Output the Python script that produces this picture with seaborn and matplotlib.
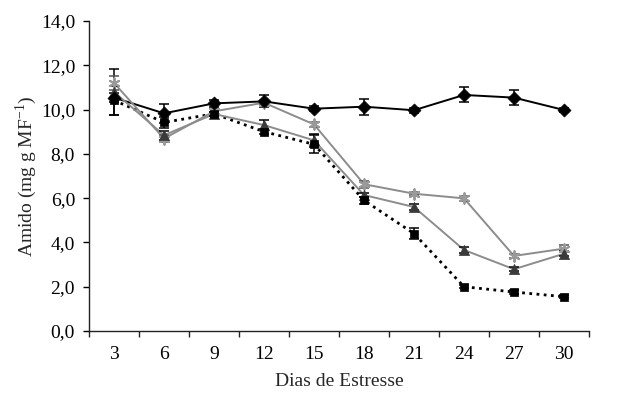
import matplotlib
matplotlib.use("Agg")
import matplotlib.pyplot as plt
import numpy as np
import pandas as pd
import seaborn as sns
from matplotlib.ticker import FixedLocator, FixedFormatter, NullFormatter

# Dias de estresse (categorias do eixo x)
dias = [3, 6, 9, 12, 15, 18, 21, 24, 27, 30]

# Amido (mg g MF-1) por tratamento, com erro-padrão
controle = [10.54, 9.83, 10.28, 10.37, 10.04, 10.13, 9.97, 10.66, 10.54, 9.98]
controle_ep = [0.20, 0.42, 0.15, 0.27, 0.12, 0.36, 0.12, 0.34, 0.33, 0.08]

trat_a = [10.42, 9.42, 9.81, 9.00, 8.43, 5.90, 4.40, 2.00, 1.76, 1.55]
trat_a_ep = [0.65, 0.25, 0.10, 0.12, 0.40, 0.15, 0.25, 0.08, 0.08, 0.06]

trat_b = [10.80, 8.84, 9.80, 9.30, 8.61, 6.14, 5.60, 3.66, 2.79, 3.49]
trat_b_ep = [1.05, 0.20, 0.10, 0.22, 0.30, 0.10, 0.12, 0.15, 0.10, 0.12]

trat_c = [11.20, 8.69, 9.92, 10.31, 9.33, 6.63, 6.20, 5.99, 3.39, 3.72]
trat_c_ep = [0.30, 0.15, 0.12, 0.12, 0.10, 0.15, 0.08, 0.12, 0.08, 0.15]

yticks = [0, 2, 4, 6, 8, 10, 12, 14]

series = {
    "controle": (controle, controle_ep),
    "trat_a": (trat_a, trat_a_ep),
    "trat_b": (trat_b, trat_b_ep),
    "trat_c": (trat_c, trat_c_ep),
}

rows = []
for nome, (vals, eps) in series.items():
    for i, (d, v, e) in enumerate(zip(dias, vals, eps)):
        rows.append({"pos": i, "dia": d, "amido": v, "ep": e, "serie": nome})
df = pd.DataFrame(rows)

sns.set_style("ticks")
plt.rcParams["font.family"] = ["Liberation Serif", "DejaVu Serif"]
plt.rcParams["mathtext.fontset"] = "custom"
plt.rcParams["mathtext.rm"] = "Liberation Serif"

fig = plt.figure(figsize=(6.32, 3.96), dpi=100)
# área do gráfico: 89..589 px na horizontal, 21..331 px na vertical
ax = fig.add_axes([89 / 632, 65 / 396, 500 / 632, 310 / 396])

line_colors = {"controle": "black", "trat_a": "black", "trat_b": "#8c8c8c", "trat_c": "#8c8c8c"}
dashes = {"controle": "", "trat_a": (1.0, 1.6), "trat_b": "", "trat_c": ""}
lws = {"controle": 1.4, "trat_a": 2.0, "trat_b": 1.4, "trat_c": 1.4}

# linhas de cada tratamento
for nome in series:
    sub = df[df["serie"] == nome]
    sns.lineplot(data=sub, x="pos", y="amido", color=line_colors[nome],
                 linewidth=lws[nome], ax=ax, legend=False, zorder=2)
    if dashes[nome] != "":
        ax.lines[-1].set_dashes(dashes[nome])

# barras de erro
err_colors = {"controle": "black", "trat_a": "black", "trat_b": "black", "trat_c": "#555555"}
for nome in series:
    sub = df[df["serie"] == nome]
    ax.errorbar(sub["pos"], sub["amido"], yerr=sub["ep"], fmt="none",
                ecolor=err_colors[nome], elinewidth=1.1, capsize=3.6,
                capthick=1.1, zorder=3)

# marcadores
marker_style = {
    "controle": dict(marker="D", s=44, color="black"),
    "trat_a": dict(marker="s", s=38, color="black"),
    "trat_b": dict(marker="^", s=54, color="#3a3a3a"),
    "trat_c": dict(marker=(6, 2, 0), s=58, color="#9a9a9a"),
}
for nome in ["trat_c", "trat_b", "trat_a", "controle"]:
    sub = df[df["serie"] == nome]
    st = marker_style[nome]
    sns.scatterplot(data=sub, x="pos", y="amido", marker=st["marker"], s=st["s"],
                    color=st["color"], edgecolor=st["color"],
                    linewidth=1.4 if nome == "trat_c" else 0.5,
                    ax=ax, legend=False, zorder=4)

# eixos
ax.set_xlim(-0.5, len(dias) - 0.5)
ax.set_ylim(0, 14)
ax.yaxis.set_major_locator(FixedLocator(yticks))
ax.yaxis.set_major_formatter(FixedFormatter([f"{v:.1f}".replace(".", ",") for v in yticks]))

ax.xaxis.set_major_locator(FixedLocator(np.arange(-0.5, len(dias), 1.0)))
ax.xaxis.set_major_formatter(NullFormatter())
ax.xaxis.set_minor_locator(FixedLocator(np.arange(len(dias))))
ax.xaxis.set_minor_formatter(FixedFormatter([str(d) for d in dias]))

ax.tick_params(axis="y", which="major", direction="out", length=4, width=1,
               labelsize=14, pad=6, colors="black")
ax.tick_params(axis="x", which="major", direction="out", length=4, width=1)
ax.tick_params(axis="x", which="minor", length=0, labelsize=14, pad=11, labelcolor="black")

for s in ["top", "right"]:
    ax.spines[s].set_visible(False)
for s in ["left", "bottom"]:
    ax.spines[s].set_color("#222222")
    ax.spines[s].set_linewidth(1)

ax.set_xlabel("Dias de Estresse", fontsize=14)
ax.set_ylabel("Amido (mg g MF$^{\\mathregular{-1}}$)", fontsize=14)
ax.xaxis.set_label_coords(0.5, -50 / 310, transform=ax.transAxes)
ax.xaxis.label.set_verticalalignment("center")
ax.yaxis.set_label_coords(-63 / 500, 0.5, transform=ax.transAxes)
ax.yaxis.label.set_verticalalignment("center")

fig.savefig("out.png", dpi=100)
